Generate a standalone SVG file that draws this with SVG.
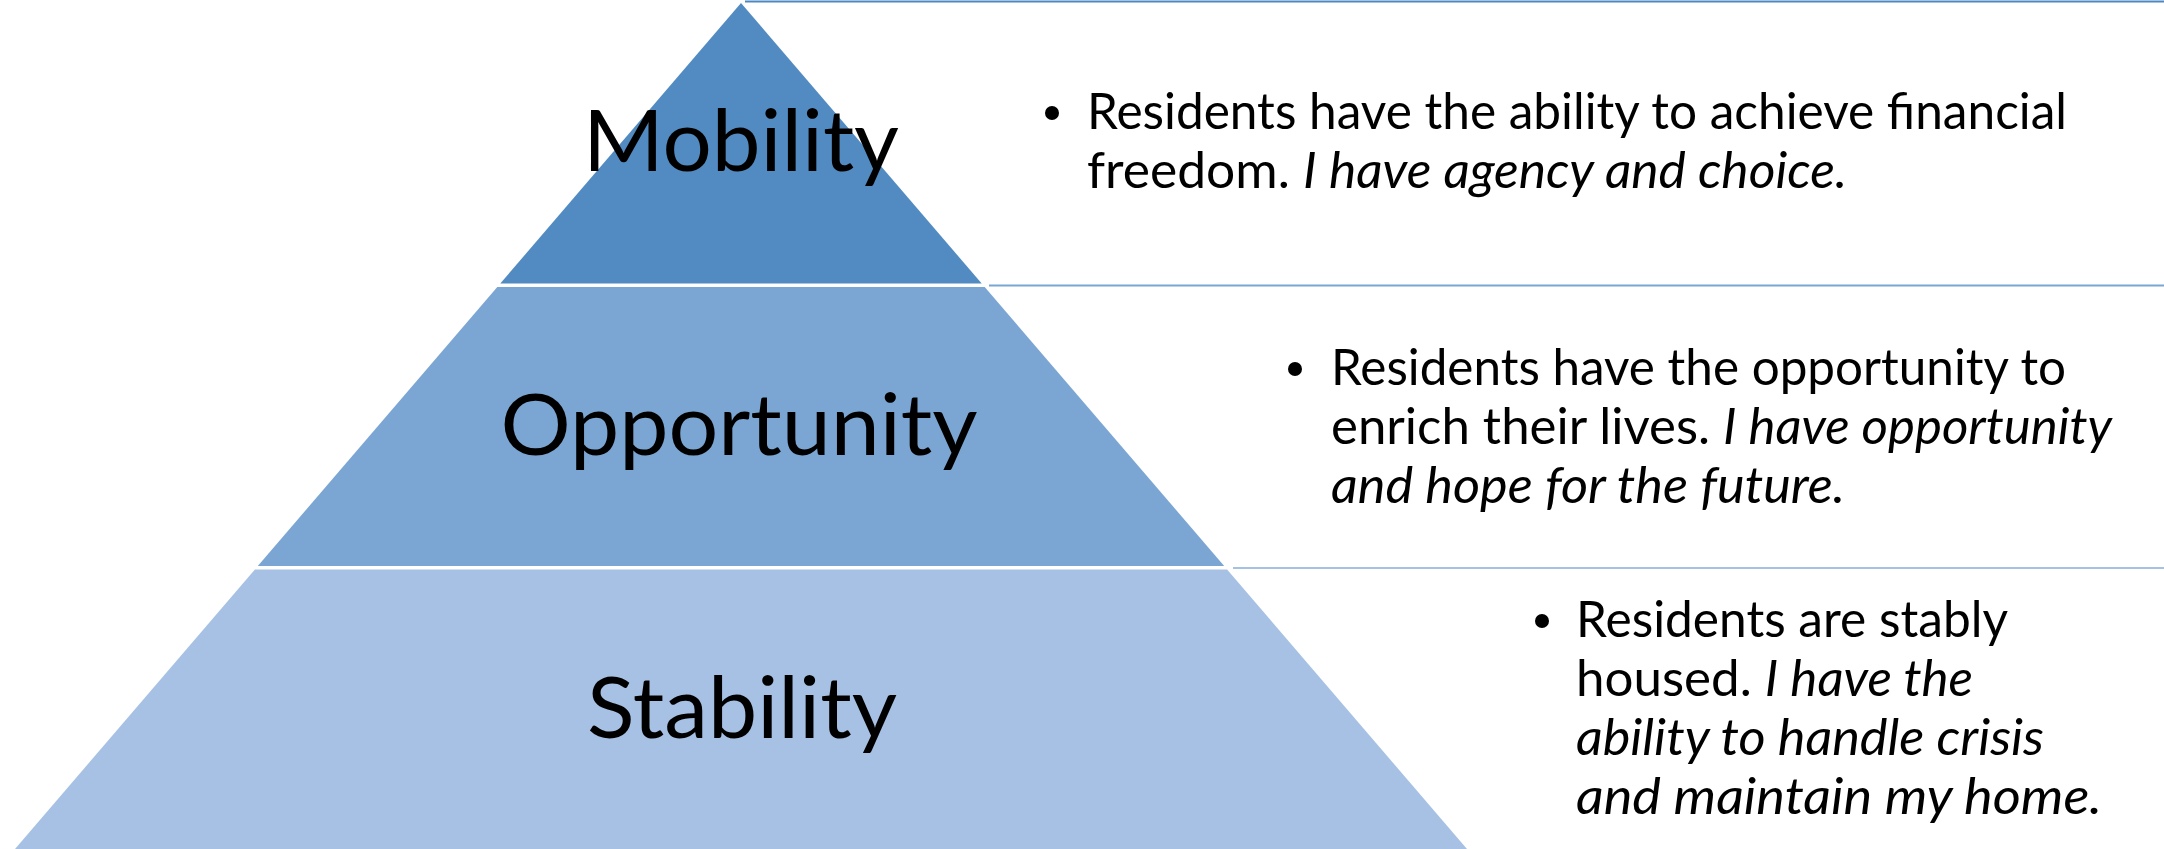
<svg xmlns="http://www.w3.org/2000/svg" width="2164" height="849" viewBox="0 0 2164 849">
  <style>
    .label { font-family: Lato, "Open Sans", "Liberation Sans", sans-serif; font-size: 86px; fill: #000; text-anchor: middle; }
    .body { font-family: Lato, "Open Sans", "Liberation Sans", sans-serif; font-size: 51px; fill: #000; }
    .it { font-style: italic; }
    .bullet { fill: #000; }
    .rule { stroke-width: 2; fill: none; }
  </style>

  <rect width="2164" height="849" fill="#ffffff"/>

  <!-- row separators to the right of the pyramid -->
  <g id="connectors">
    <line class="rule" x1="745" y1="1.5" x2="2164" y2="1.5" stroke="#4F87C0"/>
    <line class="rule" x1="989" y1="285.5" x2="2164" y2="285.5" stroke="#7BA5D2"/>
    <line class="rule" x1="1233" y1="568" x2="2164" y2="568" stroke="#A5C1E3"/>
  </g>

  <!-- pyramid tiers -->
  <g id="mobility">
    <polygon points="741,3 981.7,283.5 500.3,283.5" fill="#528BC2"/>
    <text class="label" x="741" y="171" textLength="316" lengthAdjust="spacingAndGlyphs">Mobility</text>
  </g>
  <g id="opportunity">
    <polygon points="497.3,287 984.7,287 1224.2,566 257.8,566" fill="#7BA6D3"/>
    <text class="label" x="739" y="455" textLength="477" lengthAdjust="spacingAndGlyphs">Opportunity</text>
  </g>
  <g id="stability">
    <polygon points="254.9,569.5 1227.1,569.5 1467,849 15,849" fill="#A6C1E4"/>
    <text class="label" x="742" y="738" textLength="310" lengthAdjust="spacingAndGlyphs">Stability</text>
  </g>

  <!-- descriptions -->
  <g id="mobility-text">
    <circle class="bullet" cx="1052" cy="113" r="7"/>
    <text class="body" x="1087" y="129" textLength="980" lengthAdjust="spacingAndGlyphs">Residents have the ability to achieve financial</text>
    <text class="body" x="1087" y="188" textLength="760" lengthAdjust="spacingAndGlyphs">freedom. <tspan class="it">I have agency and choice.</tspan></text>
  </g>
  <g id="opportunity-text">
    <circle class="bullet" cx="1295" cy="369" r="7"/>
    <text class="body" x="1331" y="385" textLength="735" lengthAdjust="spacingAndGlyphs">Residents have the opportunity to</text>
    <text class="body" x="1331" y="444" textLength="781" lengthAdjust="spacingAndGlyphs">enrich their lives. <tspan class="it">I have opportunity</tspan></text>
    <text class="body it" x="1331" y="503" textLength="514" lengthAdjust="spacingAndGlyphs">and hope for the future.</text>
  </g>
  <g id="stability-text">
    <circle class="bullet" cx="1542" cy="621" r="7"/>
    <text class="body" x="1576" y="637" textLength="432" lengthAdjust="spacingAndGlyphs">Residents are stably</text>
    <text class="body" x="1576" y="696" textLength="397" lengthAdjust="spacingAndGlyphs">housed. <tspan class="it">I have the</tspan></text>
    <text class="body it" x="1576" y="755" textLength="468" lengthAdjust="spacingAndGlyphs">ability to handle crisis</text>
    <text class="body it" x="1576" y="814" textLength="526" lengthAdjust="spacingAndGlyphs">and maintain my home.</text>
  </g>
</svg>
